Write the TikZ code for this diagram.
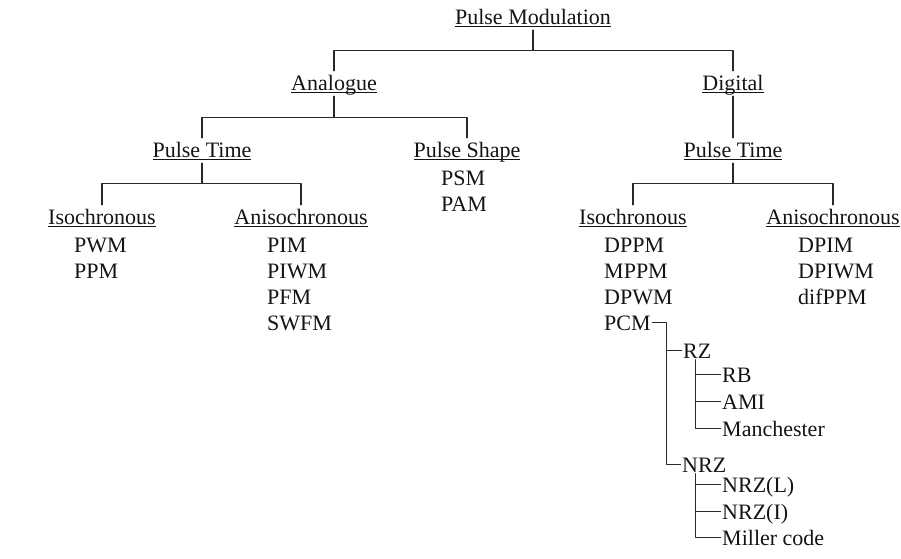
\documentclass[tikz,border=0pt]{standalone}
\usepackage{fontspec}
\setmainfont{Liberation Serif}
\usetikzlibrary{calc}
\definecolor{treecolor}{HTML}{2A2A2A}
\newcommand{\ulbox}[1]{\setbox0=\hbox{#1}\rlap{\rule[-2.6pt]{\wd0}{1pt}}\box0}

\begin{document}
\begin{tikzpicture}[x=1pt,y=-1pt,line cap=round,line join=round,
  font=\fontsize{22pt}{26pt}\selectfont,text=black!92,
  head/.style={anchor=base,inner sep=0pt,text height=19pt,text depth=6pt},
  item/.style={anchor=base west,inner sep=1.5pt,text height=15pt,text depth=0pt},
  branch/.style={draw=treecolor,line width=1.3pt}]
  \useasboundingbox (0,0) rectangle (901,558);
  % headings
  \node[head] (pm) at (533,24) {\ulbox{Pulse Modulation}};
  \node[head] (an) at (334,90) {\ulbox{Analogue}};
  \node[head] (dg) at (733,90) {\ulbox{Digital}};
  \node[head] (apt) at (202,157) {\ulbox{Pulse Time}};
  \node[head] (ps) at (467,157) {\ulbox{Pulse Shape}};
  \node[head] (dpt) at (733,157) {\ulbox{Pulse Time}};
  \node[head] (aiso) at (102,224) {\ulbox{Isochronous}};
  \node[head] (aaniso) at (301,224) {\ulbox{Anisochronous}};
  \node[head] (diso) at (633,224) {\ulbox{Isochronous}};
  \node[head] (daniso) at (833,224) {\ulbox{Anisochronous}};
  % lists
  \foreach \t [count=\i] in {PSM,PAM}{\node[item] (ps-\i) at (439.5,159+26*\i) {\t};}
  \foreach \t [count=\i] in {PWM,PPM}{\node[item] (aiso-\i) at (72.5,226+26*\i) {\t};}
  \foreach \t [count=\i] in {PIM,PIWM,PFM,SWFM}{\node[item] (aaniso-\i) at (265.5,226+26*\i) {\t};}
  \foreach \t [count=\i] in {DPPM,MPPM,DPWM}{\node[item] (diso-\i) at (602.5,226+26*\i) {\t};}
  \node[item] (pcm) at (602.5,330) {PCM};
  \foreach \t [count=\i] in {DPIM,DPIWM,difPPM}{\node[item] (daniso-\i) at (796.5,226+26*\i) {\t};}
  % line codes
  \node[item] (rz) at (681.5,358) {RZ};
  \node[item] (rb) at (720.5,382) {RB};
  \node[item] (ami) at (720.5,409) {AMI};
  \node[item] (man) at (720.5,436) {Manchester};
  \node[item] (nrz) at (680.5,472) {NRZ};
  \node[item] (nrzl) at (720.5,492) {NRZ(L)};
  \node[item] (nrzi) at (720.5,519) {NRZ(I)};
  \node[item] (mil) at (720.5,545) {Miller code};
  % tree
  \draw[branch] (pm.south) -- ++(0,20) coordinate (b0);
  \draw[branch] (an.north) |- (b0) -| (dg.north);
  \draw[branch] (an.south) -- ++(0,21) coordinate (b1);
  \draw[branch] (apt.north) |- (b1) -| (ps.north);
  \draw[branch] (dg.south) -- (dpt.north);
  \draw[branch] (apt.south) -- ++(0,20) coordinate (b2);
  \draw[branch] (aiso.north) |- (b2) -| (aaniso.north);
  \draw[branch] (dpt.south) -- ++(0,20) coordinate (b3);
  \draw[branch] (diso.north) |- (b3) -| (daniso.north);
  % PCM branch
  \draw[branch] (pcm.east) -- ++(14,0) coordinate (t1) |- (nrz.west);
  \draw[branch] (t1 |- rz.west) -- (rz.west);
  \draw[branch] ([xshift=14pt]rz.south west) coordinate (t2) |- (man.west);
  \draw[branch] (t2 |- rb.west) -- (rb.west);
  \draw[branch] (t2 |- ami.west) -- (ami.west);
  \draw[branch] ([xshift=15pt]nrz.south west) coordinate (t3) |- (mil.west);
  \draw[branch] (t3 |- nrzl.west) -- (nrzl.west);
  \draw[branch] (t3 |- nrzi.west) -- (nrzi.west);
\end{tikzpicture}
\end{document}
